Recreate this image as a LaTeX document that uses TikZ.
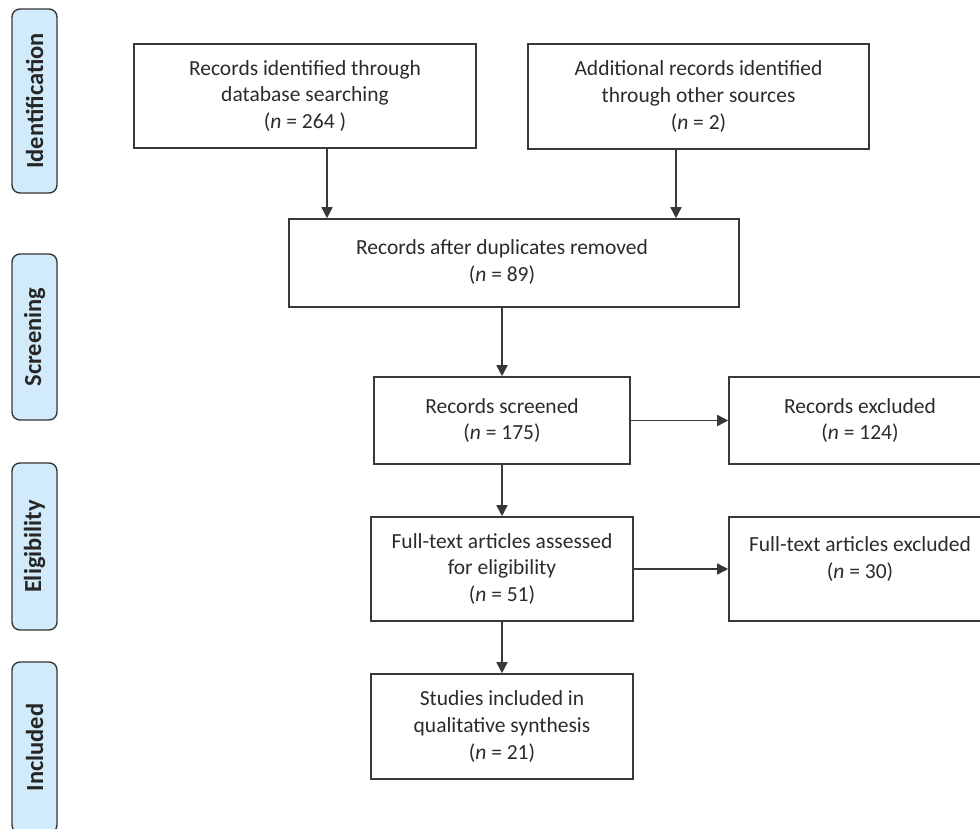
\documentclass[tikz,border=0pt]{standalone}
\usepackage{fontspec}
\setmainfont{Carlito}
\usetikzlibrary{arrows.meta}
\definecolor{txt}{HTML}{2B2B2B}
\definecolor{ln}{HTML}{383838}
\definecolor{sidefill}{HTML}{D2EBFB}
\begin{document}
\begin{tikzpicture}[x=1pt,y=-1pt,
  box/.style={draw=ln,line width=1.6pt,rectangle,inner sep=0pt,align=center,text=txt,
    font=\fontsize{21.5}{26.7}\selectfont},
  lbl/.style={inner sep=0pt,align=center,text=txt,font=\fontsize{21.5}{26.7}\selectfont},
  sidebox/.style={draw=ln,line width=1.4pt,fill=sidefill,rounded corners=8pt,rotate=90,
    minimum height=45pt,inner sep=0pt,text=black!85,font=\bfseries\fontsize{24.5}{26}\selectfont},
  arr/.style={draw=ln,line width=1.6pt,-{Triangle[length=11pt,width=11pt]}}
]
\useasboundingbox (0,0) rectangle (980,829);
\clip (0,0) rectangle (980,829);

% side labels
\node[sidebox,minimum width=184pt] (sid) at (34.5,101) {Identification};
\node[sidebox,minimum width=166pt] (sscr) at (34.5,337) {Screening};
\node[sidebox,minimum width=167pt] (self) at (34.5,546.5) {Eligibility};
\node[sidebox,minimum width=171pt] (sinc) at (34.5,747.5) {Included};

% boxes
\node[box,minimum width=342pt,minimum height=104pt] (b1) at (305,96)
  {Records identified through\\database searching\\(\textit{n} = 264 )};
\node[box,minimum width=341pt,minimum height=105pt] (b2) at (698.5,96.5)
  {Additional records identified\\through other sources\\(\textit{n} = 2)};
\node[box,minimum width=450pt,minimum height=88pt] (dup) at (514,263) {};
\node[lbl] (dupt) at (502,262) {Records after duplicates removed\\(\textit{n} = 89)};
\node[box,minimum width=256pt,minimum height=87pt] (scr) at (502,420.5)
  {Records screened\\(\textit{n} = 175)};
\node[box,minimum width=262pt,minimum height=87pt] (exa) at (860,420.5)
  {Records excluded\\(\textit{n} = 124)};
\node[box,minimum width=262pt,minimum height=104pt] (ft) at (502,569)
  {Full-text articles assessed\\for eligibility\\(\textit{n} = 51)};
\node[box,minimum width=262pt,minimum height=104pt] (exb) at (860,569) {};
\node[lbl] (exbt) at (860,559) {Full-text articles excluded\\(\textit{n} = 30)};
\node[box,minimum width=262pt,minimum height=105pt] (st) at (502,726.5)
  {Studies included in\\qualitative synthesis\\(\textit{n} = 21)};

% connectors
\draw[arr] ([xshift=22pt]b1.south) -- ([xshift=22pt]b1.south |- dup.north);
\draw[arr] ([xshift=-22.5pt]b2.south) -- ([xshift=-22.5pt]b2.south |- dup.north);
\draw[arr] (dup.south -| scr.north) -- (scr.north);
\draw[arr] (scr.east) -- (exa.west);
\draw[arr] (scr.south) -- (ft.north);
\draw[arr] (ft.east) -- (exb.west);
\draw[arr] (ft.south) -- (st.north);
\end{tikzpicture}
\end{document}
